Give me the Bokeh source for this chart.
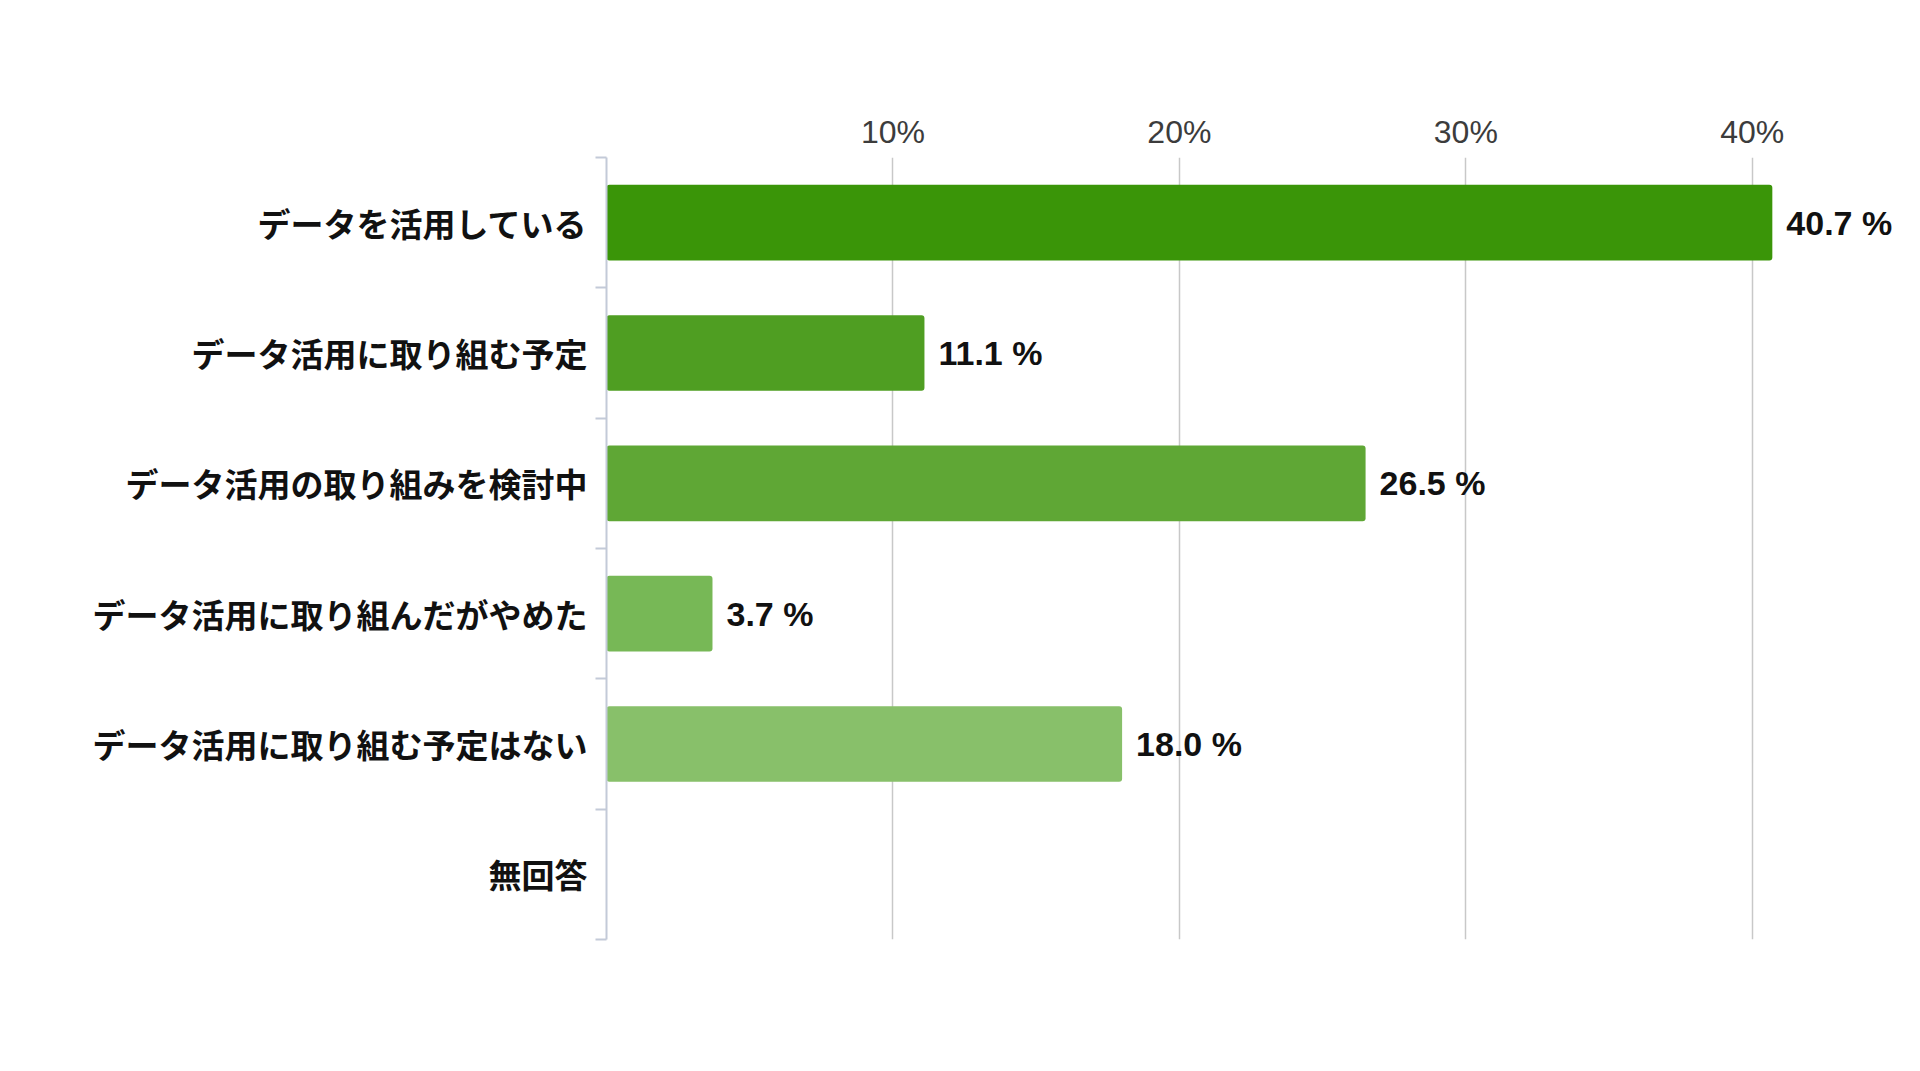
from bokeh.plotting import figure
from bokeh.models import Range1d, FixedTicker, PrintfTickFormatter, ColumnDataSource
from bokeh.embed import file_html
from bokeh.resources import INLINE
from bokeh.core.properties import value

categories = ["データを活用している", "データ活用に取り組む予定", "データ活用の取り組みを検討中",
              "データ活用に取り組んだがやめた", "データ活用に取り組む予定はない", "無回答"]
values = [40.7, 11.1, 26.5, 3.7, 18.0, 0.0]
colors = ["#3a9508", "#4f9e22", "#5fa735", "#77b856", "#88c06a", "#9acb80"]
x_ticks = [10, 20, 30, 40]

n = len(categories)
ypos = [i + 0.5 for i in range(n)]

p = figure(width=1904, height=1055, output_backend="svg", toolbar_location=None,
           x_range=Range1d(0, 45), y_range=Range1d(n, 0),
           x_axis_location="above", min_border_left=606, min_border_right=9,
           min_border_top=157, min_border_bottom=116)
p.background_fill_color = "white"
p.border_fill_color = "white"
p.outline_line_color = None

src = ColumnDataSource(dict(y=ypos, v=values, c=colors))
p.hbar(y="y", left=0, right="v", height=0.58, fill_color="c", line_color=None,
       border_radius=3, source=src)

lab_y = [ypos[i] for i in range(n) if values[i] > 0]
lab_x = [values[i] for i in range(n) if values[i] > 0]
lab_t = ["%.1f %%" % values[i] for i in range(n) if values[i] > 0]
p.text(x=lab_x, y=lab_y, text=lab_t, x_offset=14, text_align="left", text_baseline="middle",
       text_font=value("Liberation Sans"), text_font_style="bold", text_font_size="34px",
       text_color="#111111")

# x axis (top)
xa = p.xaxis[0]
xa.ticker = FixedTicker(ticks=x_ticks)
xa.formatter = PrintfTickFormatter(format="%d%%")
xa.axis_line_color = None
xa.major_tick_line_color = None
xa.minor_tick_line_color = None
xa.major_label_text_font = "Liberation Sans"
xa.major_label_text_font_size = "32px"
xa.major_label_text_color = "#3c3c3c"
xa.major_label_standoff = 2

# y axis
ya = p.yaxis[0]
ya.ticker = FixedTicker(ticks=ypos, minor_ticks=list(range(n + 1)))
ya.major_label_overrides = {ypos[i]: categories[i] for i in range(n)}
ya.axis_line_color = "#c3cad8"
ya.axis_line_width = 2
ya.major_tick_line_color = None
ya.major_tick_out = 0
ya.major_tick_in = 0
ya.minor_tick_line_color = "#c3cad8"
ya.minor_tick_line_width = 2
ya.minor_tick_out = 11
ya.minor_tick_in = 0
ya.major_label_text_font = "Noto Sans CJK JP"
ya.major_label_text_font_style = "bold"
ya.major_label_text_font_size = "33px"
ya.major_label_text_color = "#111111"
ya.major_label_standoff = 8

p.xgrid.ticker = FixedTicker(ticks=x_ticks)
p.xgrid.grid_line_color = "#c8c8c8"
p.xgrid.grid_line_width = 1.5
p.ygrid.grid_line_color = None

open("out.html", "w").write(file_html(p, INLINE))
